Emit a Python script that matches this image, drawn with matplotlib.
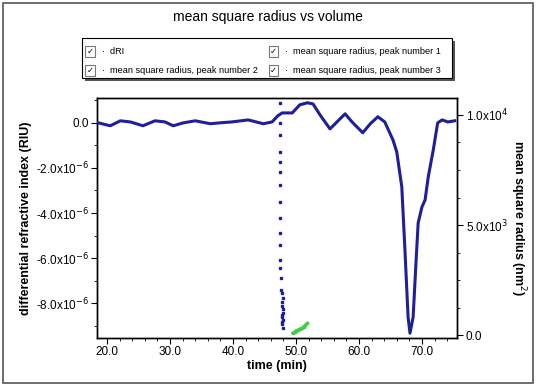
import matplotlib
matplotlib.use('Agg')
import matplotlib.pyplot as plt
from matplotlib.patches import Rectangle
from matplotlib.ticker import FixedLocator, MultipleLocator, FuncFormatter

plt.rcParams['font.family'] = ['Liberation Sans', 'DejaVu Sans']

# dRI trace (time in min, RIU)
dri_time = [18.6, 20.5, 22.1, 23.7, 25.7, 27.6, 29.2, 30.5, 32.1, 34.0,
            36.4, 37.9, 39.8, 42.4, 44.8, 46.2, 47.1, 47.8, 49.4, 50.6,
            51.8, 52.7, 53.8, 55.4, 56.5, 57.8, 58.9, 60.6, 61.8, 63.0,
            64.1, 65.4, 66.0, 66.8, 67.3, 67.8, 68.1, 68.6, 69.1, 69.4,
            70.0, 70.5, 71.0, 71.8, 72.5, 73.2, 74.1, 75.2]
dri_value = [0.0, -0.13, 0.09, 0.04, -0.13, 0.09, 0.04, -0.13, 0.0, 0.09,
             -0.04, 0.0, 0.04, 0.13, -0.04, 0.04, 0.31, 0.44, 0.44, 0.80,
             0.89, 0.84, 0.36, -0.27, 0.04, 0.40, 0.04, -0.44, -0.04, 0.27,
             0.04, -0.76, -1.29, -2.84, -5.64, -8.62, -9.33, -8.62, -5.96, -4.44,
             -3.73, -3.42, -2.40, -1.20, 0.0, 0.13, 0.04, 0.09]
dri_value = [v * 1e-6 for v in dri_value]

# mean square radius, peak number 1 (nm^2)
p1_time = [47.5, 47.5, 47.5, 47.5, 47.5, 47.5, 47.5, 47.5, 47.5, 47.5,
           47.5, 47.5, 47.5, 47.6, 47.6, 47.7, 47.9, 47.8, 47.7, 47.9,
           48.0, 47.7, 47.8, 47.9, 47.7, 47.8, 47.9]
p1_value = [10550, 9640, 9090, 8320, 7860, 7410, 6820, 6050, 5320, 4640,
            4090, 3410, 3050, 2590, 2050, 1900, 1700, 1500, 1300, 1200,
            1000, 900, 800, 700, 600, 500, 300]

# mean square radius, peak number 2 (no points visible)
p2_time = []
p2_value = []

# mean square radius, peak number 3 (nm^2)
p3_time = [49.5, 49.8, 50.0, 50.3, 50.6, 50.9, 51.2, 51.5, 51.8]
p3_value = [90, 120, 200, 230, 280, 300, 380, 450, 530]

legend_labels = ['dRI', 'mean square radius, peak number 1',
                 'mean square radius, peak number 2', 'mean square radius, peak number 3']

fig = plt.figure(figsize=(5.36, 3.86), dpi=100)
fig.patch.set_facecolor('white')

# outer frame
fig.patches.append(Rectangle((0.006, 0.008), 0.988, 0.984, transform=fig.transFigure,
                             fill=False, edgecolor='#555555', lw=1.2))

ax = fig.add_axes([0.181, 0.124, 0.672, 0.622])
ax2 = ax.twinx()

ax.plot(dri_time, dri_value, color='#1f1f99', lw=2.2, zorder=3)
ax2.plot(p1_time, p1_value, ls='none', marker='s', ms=1.8, color='#1f1f99')
ax2.plot(p2_time, p2_value, ls='none', marker='s', ms=1.8, color='#cc3333')
ax2.plot(p3_time, p3_value, ls='-', lw=2.2, marker='s', ms=1.8, color='#44cc44')
ax.set_zorder(ax2.get_zorder() + 1)
ax.patch.set_visible(False)

ax.set_xlim(18.4, 75.6)
ax.set_ylim(-9.55e-6, 1.1e-6)
ax2.set_ylim(-140, 10770)

def left_fmt(v, pos):
    if abs(v) < 1e-12:
        return '0.0'
    return r'%.1fx10$^{-6}$' % (v * 1e6)

def right_fmt(v, pos):
    if v == 0:
        return '0.0'
    if v == 5000:
        return r'5.0x10$^{3}$'
    return r'1.0x10$^{4}$'

ax.yaxis.set_major_locator(FixedLocator([0, -2e-6, -4e-6, -6e-6, -8e-6]))
ax.yaxis.set_minor_locator(MultipleLocator(1e-6))
ax.yaxis.set_major_formatter(FuncFormatter(left_fmt))
ax.xaxis.set_major_locator(MultipleLocator(10))
ax.xaxis.set_minor_locator(MultipleLocator(2))
ax.xaxis.set_major_formatter(FuncFormatter(lambda v, p: '%.1f' % v))
ax2.yaxis.set_major_locator(FixedLocator([0, 5000, 10000]))
ax2.yaxis.set_minor_locator(MultipleLocator(1250))
ax2.yaxis.set_major_formatter(FuncFormatter(right_fmt))

for a in (ax, ax2):
    a.tick_params(which='major', direction='out', length=4, width=0.8, labelsize=8.5, pad=2)
    a.tick_params(which='minor', direction='out', length=2, width=0.6)
    for s in a.spines.values():
        s.set_linewidth(1.0)

ax.set_xlabel('time (min)', fontsize=9, fontweight='bold', labelpad=1)
ax.set_ylabel('differential refractive index (RIU)', fontsize=9, fontweight='bold', labelpad=3)
ax2.set_ylabel('mean square radius (nm$^2$)', fontsize=9, fontweight='bold',
               rotation=270, labelpad=14)

fig.text(0.5, 0.957, 'mean square radius vs volume', ha='center', va='center', fontsize=10)

# legend box with checkbox icons
lx0, ly0, lw_, lh = 0.153, 0.798, 0.690, 0.104
fig.patches.append(Rectangle((lx0 + 0.005, ly0 - 0.008), lw_, lh, transform=fig.transFigure,
                             facecolor='#555555', edgecolor='none'))
fig.patches.append(Rectangle((lx0, ly0), lw_, lh, transform=fig.transFigure,
                             facecolor='white', edgecolor='black', lw=0.8))
entry_pos = [(0.168, 0.866), (0.510, 0.866), (0.168, 0.817), (0.510, 0.817)]
for (ex, ey), lab in zip(entry_pos, legend_labels):
    fig.patches.append(Rectangle((ex - 0.009, ey - 0.014), 0.018, 0.028, transform=fig.transFigure,
                                 facecolor='white', edgecolor='#777777', lw=0.8))
    fig.text(ex, ey, '\u2713', ha='center', va='center', fontsize=6, family='DejaVu Sans')
    fig.text(ex + 0.022, ey, '\u00b7  ' + lab, ha='left', va='center', fontsize=6.6)

fig.savefig('out.png', dpi=100)
